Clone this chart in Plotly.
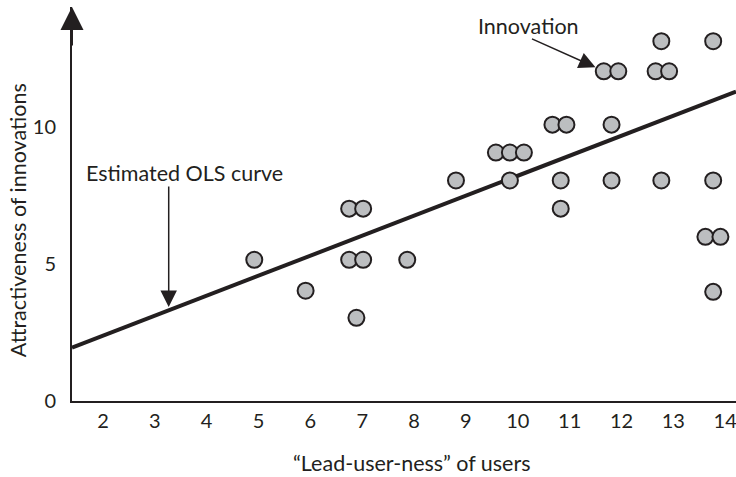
import plotly.graph_objects as go

# Scatter data
x_vals = [4.88, 5.87, 6.71, 6.98, 6.71, 6.98, 6.85, 7.83, 8.77, 9.54, 9.81, 10.08, 9.81,
          10.63, 10.9, 10.79, 10.79, 11.62, 11.9, 11.77, 11.77, 12.73, 12.62, 12.88, 12.73,
          13.73, 13.73, 13.58, 13.87, 13.73]
y_vals = [5.16, 4.03, 7.03, 7.03, 5.16, 5.16, 3.04, 5.16, 8.06, 9.08, 9.08, 9.08, 8.06,
          10.1, 10.1, 8.06, 7.03, 12.05, 12.05, 10.1, 8.06, 13.15, 12.05, 12.05, 8.06,
          13.15, 8.06, 6.0, 6.0, 3.99]

# Estimated OLS line endpoints
ols_x = [1.365, 14.17]
ols_y = [1.95, 11.31]

x_ticks = [2, 3, 4, 5, 6, 7, 8, 9, 10, 11, 12, 13, 14]
y_ticks = [0, 5, 10]

INK = "#231f20"
FONT = "Lato"
FS = 21.5
TFS = 20

fig = go.Figure()
fig.add_trace(go.Scatter(x=ols_x, y=ols_y, mode="lines", cliponaxis=False,
                         line=dict(color=INK, width=4), hoverinfo="skip"))
fig.add_trace(go.Scatter(x=x_vals, y=y_vals, mode="markers", cliponaxis=False,
                         marker=dict(size=16, color="#bcbec0",
                                     line=dict(color=INK, width=2))))

fig.update_layout(
    width=736, height=477,
    margin=dict(l=72, r=0, t=7, b=76, autoexpand=False),
    paper_bgcolor="white", plot_bgcolor="white",
    showlegend=False,
    font=dict(family=FONT, size=FS, color=INK),
    xaxis=dict(range=[1.365, 14.17], tickvals=x_ticks, showgrid=False, zeroline=False,
               showline=True, linecolor=INK, linewidth=2, ticks="outside", ticklen=1,
               tickcolor="rgba(0,0,0,0)", fixedrange=True, automargin=False,
               ticklabeloverflow="allow", ticklabelshift=-2,
               tickfont=dict(family=FONT, size=TFS, color=INK)),
    yaxis=dict(range=[0, 14.4], tickvals=y_ticks, showgrid=False, zeroline=False,
               showline=True, linecolor=INK, linewidth=2, ticks="outside", ticklen=10,
               tickcolor="rgba(0,0,0,0)", fixedrange=True, automargin=False,
               ticklabeloverflow="allow",
               tickfont=dict(family=FONT, size=TFS, color=INK)),
)

# y-axis arrowhead
fig.add_annotation(x=1.365, y=14.4, xref="x", yref="y", ax=0, ay=40,
                   text="", showarrow=True, arrowhead=2, arrowsize=2.3, arrowwidth=2, arrowcolor=INK)

# OLS label and arrow
fig.add_annotation(x=3.54, y=8.35, text="Estimated OLS curve", showarrow=False,
                   xanchor="center", yanchor="middle")
fig.add_annotation(x=3.23, y=3.44, ax=0, ay=-122, text="", showarrow=True,
                   arrowhead=2, arrowsize=2.2, arrowwidth=1.5, arrowcolor=INK)

# Innovation label and arrow
fig.add_annotation(x=10.17, y=13.7, text="Innovation", showarrow=False,
                   xanchor="center", yanchor="middle")
fig.add_annotation(x=11.46, y=12.2, ax=-65, ay=-29, text="", showarrow=True,
                   arrowhead=2, arrowsize=2.2, arrowwidth=1.5, arrowcolor=INK)

# Axis titles
fig.add_annotation(xref="paper", yref="paper", x=0, y=0.459, xshift=-54, textangle=-90,
                   xanchor="center", yanchor="middle",
                   text="Attractiveness of innovations", showarrow=False)
fig.add_annotation(xref="paper", yref="paper", x=0.512, y=0, yshift=-62,
                   xanchor="center", yanchor="middle",
                   text="\u201cLead-user-ness\u201d of users", showarrow=False)

fig.write_html("out.html",
               config={"displayModeBar": False, "staticPlot": True},
               post_script="document.body.style.margin='0';document.body.style.overflow='hidden';")
